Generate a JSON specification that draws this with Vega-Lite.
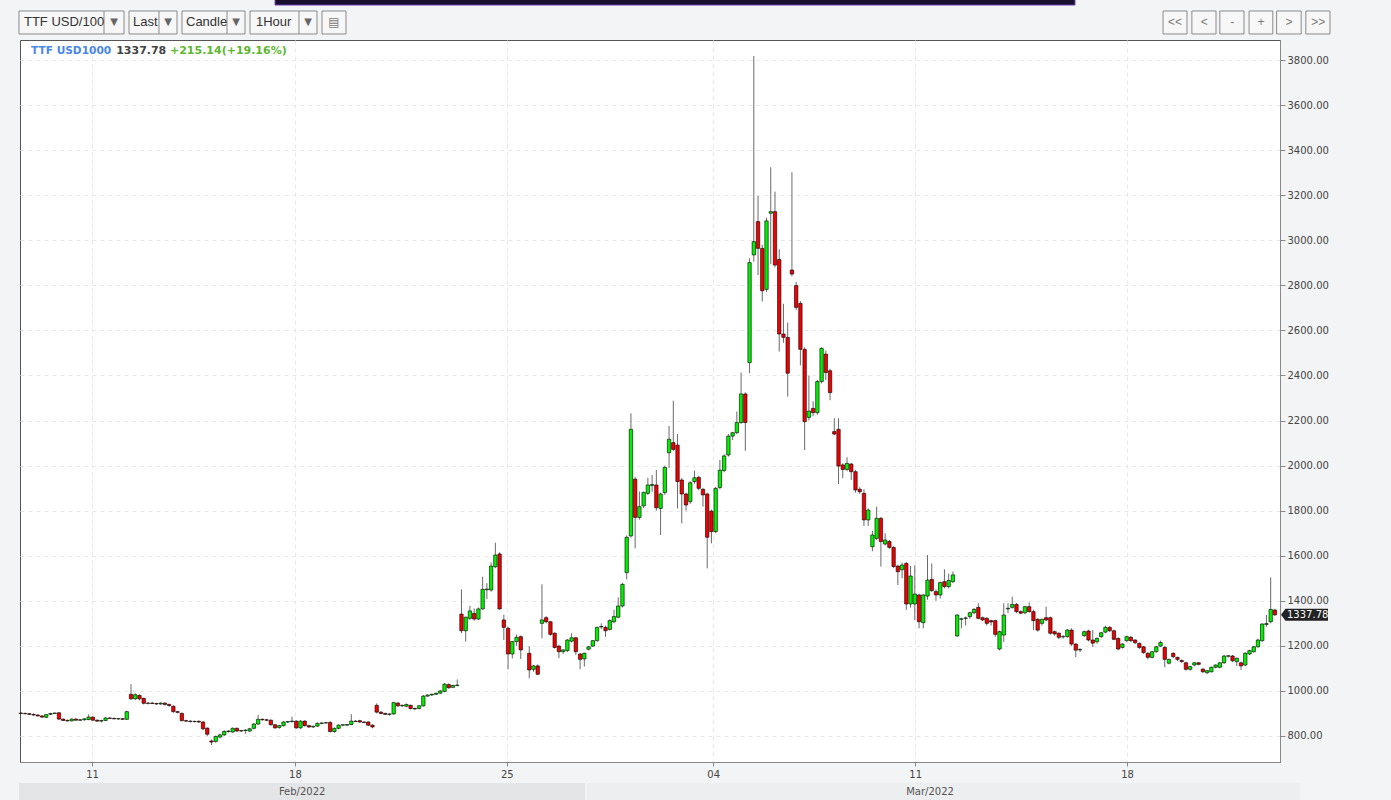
{
"$schema": "https://vega.github.io/schema/vega-lite/v6.json",
"width": 1260, "height": 722,
"autosize": {"type": "none"},
"padding": {"left": 20, "top": 40, "right": 111, "bottom": 38},
"background": "#f3f4f6",
"config": {"view": {"stroke": "#555555", "strokeWidth": 1, "fill": "#ffffff"}, "font": "DejaVu Sans"},
"data": {"values": [{}]},
"datasets": {"candles": [
{"i":0,"o":902,"h":906,"l":897,"c":900},{"i":1,"o":900,"h":904,"l":896,"c":899},{"i":2,"o":899,"h":902,"l":894,"c":896},{"i":3,"o":896,"h":900,"l":890,"c":893},{"i":4,"o":893,"h":897,"l":886,"c":889},{"i":5,"o":889,"h":893,"l":880,"c":884},{"i":6,"o":883,"h":897,"l":880,"c":895},{"i":7,"o":896,"h":903,"l":894,"c":900},{"i":8,"o":900,"h":904,"l":898,"c":902},{"i":9,"o":903,"h":906,"l":872,"c":875},
{"i":10,"o":875,"h":878,"l":866,"c":869},{"i":11,"o":869,"h":874,"l":864,"c":867},{"i":12,"o":867,"h":878,"l":865,"c":875},{"i":13,"o":875,"h":879,"l":868,"c":870},{"i":14,"o":870,"h":876,"l":866,"c":872},{"i":15,"o":872,"h":879,"l":868,"c":876},{"i":16,"o":873,"h":896,"l":870,"c":884},{"i":17,"o":884,"h":886,"l":868,"c":870},{"i":18,"o":870,"h":874,"l":862,"c":866},{"i":19,"o":866,"h":872,"l":860,"c":869},
{"i":20,"o":869,"h":884,"l":866,"c":880},{"i":21,"o":880,"h":884,"l":876,"c":878},{"i":22,"o":878,"h":882,"l":874,"c":876},{"i":23,"o":876,"h":880,"l":872,"c":877},{"i":24,"o":877,"h":880,"l":871,"c":874},{"i":25,"o":874,"h":912,"l":872,"c":908},{"i":26,"o":985,"h":1030,"l":960,"c":965},{"i":27,"o":965,"h":990,"l":960,"c":983},{"i":28,"o":980,"h":985,"l":958,"c":965},{"i":29,"o":967,"h":970,"l":940,"c":945},
{"i":30,"o":945,"h":950,"l":940,"c":946},{"i":31,"o":946,"h":952,"l":942,"c":944},{"i":32,"o":944,"h":948,"l":938,"c":942},{"i":33,"o":942,"h":950,"l":938,"c":946},{"i":34,"o":946,"h":950,"l":935,"c":940},{"i":35,"o":940,"h":944,"l":930,"c":935},{"i":36,"o":932,"h":936,"l":903,"c":908},{"i":37,"o":908,"h":912,"l":900,"c":905},{"i":38,"o":900,"h":905,"l":865,"c":868},{"i":39,"o":868,"h":872,"l":862,"c":866},
{"i":40,"o":866,"h":870,"l":860,"c":864},{"i":41,"o":864,"h":868,"l":860,"c":865},{"i":42,"o":865,"h":870,"l":858,"c":862},{"i":43,"o":862,"h":866,"l":825,"c":832},{"i":44,"o":835,"h":838,"l":800,"c":808},{"i":45,"o":778,"h":785,"l":760,"c":773},{"i":46,"o":776,"h":802,"l":770,"c":798},{"i":47,"o":795,"h":810,"l":790,"c":805},{"i":48,"o":805,"h":826,"l":800,"c":820},{"i":49,"o":820,"h":825,"l":815,"c":822},
{"i":50,"o":818,"h":838,"l":814,"c":834},{"i":51,"o":834,"h":838,"l":818,"c":822},{"i":52,"o":822,"h":828,"l":818,"c":824},{"i":53,"o":824,"h":830,"l":810,"c":826},{"i":54,"o":822,"h":836,"l":818,"c":832},{"i":55,"o":834,"h":858,"l":830,"c":853},{"i":56,"o":853,"h":893,"l":850,"c":874},{"i":57,"o":874,"h":878,"l":868,"c":872},{"i":58,"o":872,"h":876,"l":866,"c":870},{"i":59,"o":870,"h":874,"l":846,"c":850},
{"i":60,"o":850,"h":852,"l":832,"c":836},{"i":61,"o":838,"h":850,"l":832,"c":846},{"i":62,"o":846,"h":866,"l":842,"c":862},{"i":63,"o":862,"h":866,"l":858,"c":864},{"i":64,"o":864,"h":886,"l":860,"c":866},{"i":65,"o":866,"h":870,"l":832,"c":836},{"i":66,"o":836,"h":870,"l":832,"c":866},{"i":67,"o":866,"h":870,"l":842,"c":846},{"i":68,"o":846,"h":850,"l":836,"c":840},{"i":69,"o":840,"h":846,"l":836,"c":843},
{"i":70,"o":844,"h":860,"l":840,"c":856},{"i":71,"o":856,"h":860,"l":852,"c":858},{"i":72,"o":858,"h":862,"l":854,"c":859},{"i":73,"o":860,"h":866,"l":815,"c":820},{"i":74,"o":820,"h":838,"l":814,"c":834},{"i":75,"o":834,"h":852,"l":830,"c":848},{"i":76,"o":848,"h":852,"l":843,"c":850},{"i":77,"o":848,"h":852,"l":844,"c":851},{"i":78,"o":851,"h":897,"l":848,"c":866},{"i":79,"o":866,"h":870,"l":862,"c":864},
{"i":80,"o":868,"h":872,"l":858,"c":862},{"i":81,"o":862,"h":866,"l":858,"c":860},{"i":82,"o":862,"h":866,"l":844,"c":848},{"i":83,"o":848,"h":852,"l":834,"c":840},{"i":84,"o":936,"h":945,"l":900,"c":906},{"i":85,"o":906,"h":910,"l":896,"c":900},{"i":86,"o":900,"h":904,"l":893,"c":896},{"i":87,"o":896,"h":900,"l":890,"c":898},{"i":88,"o":898,"h":952,"l":894,"c":948},{"i":89,"o":946,"h":950,"l":928,"c":934},
{"i":90,"o":934,"h":940,"l":928,"c":936},{"i":91,"o":932,"h":944,"l":928,"c":940},{"i":92,"o":936,"h":940,"l":918,"c":922},{"i":93,"o":922,"h":926,"l":916,"c":920},{"i":94,"o":922,"h":938,"l":918,"c":934},{"i":95,"o":934,"h":982,"l":930,"c":977},{"i":96,"o":977,"h":984,"l":974,"c":982},{"i":97,"o":982,"h":988,"l":978,"c":985},{"i":98,"o":985,"h":992,"l":982,"c":990},{"i":99,"o":990,"h":1004,"l":986,"c":1000},
{"i":100,"o":998,"h":1035,"l":994,"c":1030},{"i":101,"o":1028,"h":1034,"l":1010,"c":1014},{"i":102,"o":1016,"h":1028,"l":1012,"c":1024},{"i":103,"o":1024,"h":1051,"l":1020,"c":1026},
{"i":104,"o":1341,"h":1451,"l":1256,"c":1267},{"i":105,"o":1267,"h":1330,"l":1219,"c":1327},{"i":106,"o":1322,"h":1378,"l":1315,"c":1355},{"i":107,"o":1344,"h":1366,"l":1312,"c":1319},{"i":108,"o":1319,"h":1370,"l":1315,"c":1364},{"i":109,"o":1364,"h":1507,"l":1360,"c":1451},
{"i":110,"o":1449,"h":1478,"l":1407,"c":1452},{"i":111,"o":1448,"h":1570,"l":1440,"c":1554},{"i":112,"o":1551,"h":1658,"l":1545,"c":1603},{"i":113,"o":1608,"h":1615,"l":1360,"c":1364},{"i":114,"o":1315,"h":1338,"l":1226,"c":1282},{"i":115,"o":1278,"h":1285,"l":1096,"c":1164},{"i":116,"o":1164,"h":1222,"l":1144,"c":1219},{"i":117,"o":1219,"h":1250,"l":1200,"c":1238},{"i":118,"o":1241,"h":1246,"l":1142,"c":1182},
{"i":120,"o":1167,"h":1199,"l":1056,"c":1093},{"i":121,"o":1096,"h":1115,"l":1085,"c":1111},{"i":122,"o":1111,"h":1118,"l":1070,"c":1074},{"i":123,"o":1300,"h":1473,"l":1233,"c":1315},{"i":124,"o":1325,"h":1332,"l":1300,"c":1307},{"i":125,"o":1307,"h":1310,"l":1245,"c":1251},{"i":126,"o":1256,"h":1260,"l":1188,"c":1193},{"i":127,"o":1199,"h":1205,"l":1145,"c":1174},{"i":128,"o":1174,"h":1185,"l":1165,"c":1182},{"i":129,"o":1179,"h":1230,"l":1172,"c":1226},
{"i":130,"o":1221,"h":1256,"l":1215,"c":1236},{"i":131,"o":1236,"h":1240,"l":1160,"c":1174},{"i":132,"o":1164,"h":1168,"l":1096,"c":1140},{"i":133,"o":1142,"h":1170,"l":1108,"c":1167},{"i":134,"o":1185,"h":1200,"l":1180,"c":1196},{"i":135,"o":1199,"h":1226,"l":1195,"c":1223},{"i":136,"o":1223,"h":1285,"l":1218,"c":1282},{"i":137,"o":1284,"h":1300,"l":1275,"c":1286},{"i":138,"o":1282,"h":1290,"l":1240,"c":1267},{"i":139,"o":1273,"h":1318,"l":1268,"c":1312},
{"i":140,"o":1307,"h":1360,"l":1300,"c":1330},{"i":141,"o":1327,"h":1415,"l":1322,"c":1377},{"i":142,"o":1377,"h":1480,"l":1370,"c":1473},{"i":143,"o":1525,"h":1690,"l":1495,"c":1682},{"i":144,"o":1688,"h":2232,"l":1680,"c":2161},{"i":145,"o":1940,"h":1950,"l":1633,"c":1770},{"i":146,"o":1770,"h":1885,"l":1760,"c":1818},{"i":147,"o":1821,"h":1885,"l":1810,"c":1881},{"i":148,"o":1877,"h":1946,"l":1870,"c":1914},{"i":149,"o":1912,"h":1958,"l":1884,"c":1916},
{"i":150,"o":1914,"h":1980,"l":1800,"c":1813},{"i":151,"o":1810,"h":1880,"l":1692,"c":1874},{"i":152,"o":1880,"h":2000,"l":1870,"c":1992},{"i":153,"o":2057,"h":2176,"l":1990,"c":2117},{"i":154,"o":2102,"h":2288,"l":2065,"c":2072},{"i":155,"o":2091,"h":2140,"l":1810,"c":1929},{"i":156,"o":1936,"h":1945,"l":1744,"c":1874},{"i":157,"o":1874,"h":1880,"l":1800,"c":1825},{"i":158,"o":1840,"h":1930,"l":1830,"c":1924},{"i":159,"o":1929,"h":1978,"l":1920,"c":1946},
{"i":160,"o":1948,"h":1955,"l":1890,"c":1899},{"i":161,"o":1895,"h":1900,"l":1818,"c":1870},{"i":162,"o":1874,"h":1880,"l":1544,"c":1682},{"i":163,"o":1798,"h":1805,"l":1655,"c":1707},{"i":164,"o":1707,"h":1905,"l":1700,"c":1899},{"i":165,"o":1903,"h":2025,"l":1895,"c":1980},{"i":166,"o":1978,"h":2050,"l":1970,"c":2043},{"i":167,"o":2047,"h":2140,"l":2040,"c":2131},{"i":168,"o":2131,"h":2150,"l":2113,"c":2146},{"i":169,"o":2146,"h":2240,"l":2140,"c":2191},
{"i":170,"o":2191,"h":2413,"l":2185,"c":2318},{"i":171,"o":2318,"h":2325,"l":2066,"c":2191},{"i":172,"o":2457,"h":2920,"l":2410,"c":2901},{"i":173,"o":2935,"h":3818,"l":2905,"c":2994},{"i":174,"o":3083,"h":3197,"l":2846,"c":2964},{"i":175,"o":2964,"h":2980,"l":2728,"c":2776},{"i":176,"o":2782,"h":3100,"l":2770,"c":3086},{"i":177,"o":3120,"h":3324,"l":2895,"c":3127},{"i":178,"o":3127,"h":3216,"l":2880,"c":2890},{"i":179,"o":2915,"h":2960,"l":2506,"c":2584},
{"i":180,"o":2584,"h":2718,"l":2545,"c":2569},{"i":181,"o":2569,"h":2635,"l":2306,"c":2410},{"i":182,"o":2868,"h":3302,"l":2840,"c":2850},{"i":183,"o":2799,"h":2815,"l":2690,"c":2702},{"i":184,"o":2720,"h":2730,"l":2445,"c":2516},{"i":185,"o":2516,"h":2525,"l":2069,"c":2195},{"i":186,"o":2214,"h":2400,"l":2200,"c":2242},{"i":187,"o":2254,"h":2285,"l":2220,"c":2235},{"i":188,"o":2235,"h":2380,"l":2225,"c":2373},{"i":189,"o":2373,"h":2525,"l":2365,"c":2520},
{"i":190,"o":2495,"h":2510,"l":2380,"c":2413},{"i":191,"o":2421,"h":2430,"l":2290,"c":2324},{"i":192,"o":2151,"h":2210,"l":2135,"c":2140},{"i":193,"o":2161,"h":2210,"l":1918,"c":1998},{"i":194,"o":2003,"h":2010,"l":1944,"c":1983},{"i":195,"o":1983,"h":2037,"l":1975,"c":2010},{"i":196,"o":2007,"h":2012,"l":1936,"c":1973},{"i":197,"o":1973,"h":1980,"l":1880,"c":1892},{"i":198,"o":1895,"h":1904,"l":1875,"c":1884},{"i":199,"o":1877,"h":1895,"l":1732,"c":1759},
{"i":200,"o":1759,"h":1810,"l":1732,"c":1803},{"i":201,"o":1640,"h":1710,"l":1620,"c":1692},{"i":202,"o":1677,"h":1818,"l":1670,"c":1766},{"i":203,"o":1766,"h":1772,"l":1552,"c":1663},{"i":204,"o":1652,"h":1700,"l":1645,"c":1670},{"i":205,"o":1663,"h":1670,"l":1630,"c":1637},{"i":206,"o":1637,"h":1642,"l":1545,"c":1552},{"i":207,"o":1554,"h":1560,"l":1470,"c":1529},{"i":208,"o":1538,"h":1570,"l":1500,"c":1559},{"i":209,"o":1566,"h":1572,"l":1360,"c":1386},
{"i":210,"o":1386,"h":1555,"l":1370,"c":1510},{"i":211,"o":1386,"h":1558,"l":1315,"c":1430},{"i":212,"o":1426,"h":1430,"l":1278,"c":1307},{"i":213,"o":1303,"h":1430,"l":1278,"c":1426},{"i":214,"o":1421,"h":1603,"l":1405,"c":1492},{"i":215,"o":1495,"h":1566,"l":1440,"c":1445},{"i":216,"o":1441,"h":1450,"l":1400,"c":1426},{"i":217,"o":1426,"h":1485,"l":1410,"c":1481},{"i":218,"o":1485,"h":1540,"l":1455,"c":1463},{"i":219,"o":1463,"h":1520,"l":1455,"c":1490},
{"i":220,"o":1485,"h":1530,"l":1478,"c":1515},{"i":221,"o":1244,"h":1340,"l":1240,"c":1337},{"i":222,"o":1318,"h":1325,"l":1278,"c":1320},{"i":223,"o":1322,"h":1330,"l":1290,"c":1324},{"i":224,"o":1330,"h":1352,"l":1320,"c":1347},{"i":225,"o":1347,"h":1368,"l":1340,"c":1362},{"i":226,"o":1371,"h":1389,"l":1318,"c":1322},{"i":227,"o":1325,"h":1330,"l":1310,"c":1315},{"i":228,"o":1322,"h":1328,"l":1290,"c":1300},{"i":229,"o":1312,"h":1316,"l":1290,"c":1306},
{"i":230,"o":1312,"h":1316,"l":1240,"c":1251},{"i":231,"o":1186,"h":1268,"l":1180,"c":1263},{"i":232,"o":1248,"h":1389,"l":1218,"c":1337},{"i":233,"o":1364,"h":1389,"l":1345,"c":1367},{"i":234,"o":1371,"h":1418,"l":1365,"c":1384},{"i":235,"o":1384,"h":1390,"l":1345,"c":1352},{"i":236,"o":1352,"h":1358,"l":1340,"c":1345},{"i":237,"o":1347,"h":1378,"l":1340,"c":1374},{"i":238,"o":1374,"h":1393,"l":1348,"c":1352},{"i":239,"o":1352,"h":1360,"l":1270,"c":1312},
{"i":240,"o":1318,"h":1322,"l":1263,"c":1270},{"i":241,"o":1300,"h":1320,"l":1290,"c":1318},{"i":242,"o":1325,"h":1374,"l":1310,"c":1315},{"i":243,"o":1325,"h":1330,"l":1250,"c":1256},{"i":244,"o":1263,"h":1268,"l":1245,"c":1253},{"i":245,"o":1256,"h":1260,"l":1230,"c":1238},{"i":246,"o":1240,"h":1248,"l":1232,"c":1241},{"i":247,"o":1241,"h":1275,"l":1236,"c":1270},{"i":248,"o":1270,"h":1278,"l":1200,"c":1208},{"i":249,"o":1208,"h":1212,"l":1150,"c":1181},
{"i":250,"o":1182,"h":1190,"l":1172,"c":1184},{"i":251,"o":1245,"h":1268,"l":1240,"c":1263},{"i":252,"o":1266,"h":1272,"l":1220,"c":1226},{"i":253,"o":1226,"h":1270,"l":1195,"c":1212},{"i":254,"o":1218,"h":1238,"l":1210,"c":1233},{"i":255,"o":1241,"h":1262,"l":1235,"c":1258},{"i":256,"o":1261,"h":1290,"l":1256,"c":1282},{"i":257,"o":1282,"h":1288,"l":1262,"c":1267},{"i":258,"o":1267,"h":1272,"l":1225,"c":1229},{"i":259,"o":1233,"h":1238,"l":1180,"c":1186},
{"i":260,"o":1193,"h":1212,"l":1188,"c":1208},{"i":261,"o":1223,"h":1245,"l":1218,"c":1241},{"i":262,"o":1238,"h":1245,"l":1218,"c":1223},{"i":263,"o":1226,"h":1230,"l":1208,"c":1214},{"i":264,"o":1211,"h":1215,"l":1186,"c":1193},{"i":265,"o":1196,"h":1200,"l":1165,"c":1170},{"i":266,"o":1167,"h":1172,"l":1140,"c":1149},{"i":267,"o":1149,"h":1178,"l":1144,"c":1174},{"i":268,"o":1174,"h":1200,"l":1170,"c":1196},{"i":269,"o":1199,"h":1223,"l":1195,"c":1215},
{"i":270,"o":1193,"h":1200,"l":1105,"c":1140},{"i":271,"o":1123,"h":1143,"l":1118,"c":1140},{"i":272,"o":1167,"h":1172,"l":1145,"c":1152},{"i":273,"o":1149,"h":1152,"l":1132,"c":1140},{"i":274,"o":1135,"h":1140,"l":1125,"c":1130},{"i":275,"o":1125,"h":1130,"l":1090,"c":1096},{"i":276,"o":1096,"h":1112,"l":1090,"c":1108},{"i":277,"o":1115,"h":1128,"l":1110,"c":1125},{"i":278,"o":1125,"h":1128,"l":1114,"c":1118},{"i":279,"o":1097,"h":1100,"l":1080,"c":1085},
{"i":280,"o":1081,"h":1093,"l":1075,"c":1090},{"i":281,"o":1085,"h":1108,"l":1082,"c":1105},{"i":282,"o":1105,"h":1118,"l":1100,"c":1115},{"i":283,"o":1105,"h":1128,"l":1100,"c":1125},{"i":284,"o":1125,"h":1160,"l":1120,"c":1155},{"i":285,"o":1154,"h":1160,"l":1148,"c":1156},{"i":286,"o":1155,"h":1160,"l":1128,"c":1134},{"i":287,"o":1130,"h":1148,"l":1110,"c":1145},{"i":288,"o":1125,"h":1130,"l":1093,"c":1111},{"i":289,"o":1115,"h":1172,"l":1110,"c":1167},
{"i":290,"o":1164,"h":1183,"l":1160,"c":1179},{"i":291,"o":1174,"h":1200,"l":1170,"c":1196},{"i":292,"o":1196,"h":1232,"l":1192,"c":1226},{"i":293,"o":1223,"h":1300,"l":1218,"c":1297},{"i":294,"o":1295,"h":1337,"l":1285,"c":1299},{"i":295,"o":1307,"h":1504,"l":1300,"c":1362},{"i":296,"o":1359,"h":1365,"l":1332,"c":1337.78}
]},
"layer": [
{"mark": {"type": "rect", "fill": "#e4e5e7"}, "encoding": {"x": {"datum": -0.44}, "x2": {"datum": 133.2}, "y": {"datum": 591.4}, "y2": {"datum": 516}}},
{"mark": {"type": "rect", "fill": "#eceef0"}, "encoding": {"x": {"datum": 133.6}, "x2": {"datum": 301.9}, "y": {"datum": 591.4}, "y2": {"datum": 516}}},
{"mark": {"type": "text", "align": "center", "baseline": "middle", "fontSize": 10, "fill": "#555555"}, "encoding": {"x": {"datum": 66.4}, "y": {"datum": 551.5}, "text": {"value": "Feb/2022"}}},
{"mark": {"type": "text", "align": "center", "baseline": "middle", "fontSize": 10, "fill": "#555555"}, "encoding": {"x": {"datum": 214.6}, "y": {"datum": 551.5}, "text": {"value": "Mar/2022"}}},
{"mark": {"type": "rect", "fill": "#16102e", "stroke": "#6a3ab0", "strokeWidth": 1}, "encoding": {"x": {"datum": 60.0}, "x2": {"datum": 248.8}, "y": {"datum": 4070}, "y2": {"datum": 4044.1}}},
{"mark": {"type": "rect", "fill": "#f7f7f7", "stroke": "#8a8a8a"}, "encoding": {"x": {"datum": -0.44}, "x2": {"datum": 24.35}, "y": {"datum": 4017.6}, "y2": {"datum": 3915.5}}},
{"mark": {"type": "rect", "fill": "#f7f7f7", "stroke": "#8a8a8a"}, "encoding": {"x": {"datum": 25.53}, "x2": {"datum": 36.86}, "y": {"datum": 4017.6}, "y2": {"datum": 3915.5}}},
{"mark": {"type": "rect", "fill": "#f7f7f7", "stroke": "#8a8a8a"}, "encoding": {"x": {"datum": 38.04}, "x2": {"datum": 52.91}, "y": {"datum": 4017.6}, "y2": {"datum": 3915.5}}},
{"mark": {"type": "rect", "fill": "#f7f7f7", "stroke": "#8a8a8a"}, "encoding": {"x": {"datum": 54.09}, "x2": {"datum": 69.9}, "y": {"datum": 4017.6}, "y2": {"datum": 3915.5}}},
{"mark": {"type": "rect", "fill": "#f7f7f7", "stroke": "#8a8a8a"}, "encoding": {"x": {"datum": 71.08}, "x2": {"datum": 76.75}, "y": {"datum": 4017.6}, "y2": {"datum": 3915.5}}},
{"mark": {"type": "rule", "stroke": "#8a8a8a"}, "encoding": {"x": {"datum": 19.63}, "y": {"datum": 4017.6}, "y2": {"datum": 3915.5}}},
{"mark": {"type": "rule", "stroke": "#8a8a8a"}, "encoding": {"x": {"datum": 32.6}, "y": {"datum": 4017.6}, "y2": {"datum": 3915.5}}},
{"mark": {"type": "rule", "stroke": "#8a8a8a"}, "encoding": {"x": {"datum": 48.66}, "y": {"datum": 4017.6}, "y2": {"datum": 3915.5}}},
{"mark": {"type": "rule", "stroke": "#8a8a8a"}, "encoding": {"x": {"datum": 65.65}, "y": {"datum": 4017.6}, "y2": {"datum": 3915.5}}},
{"mark": {"type": "text", "align": "left", "baseline": "middle", "font": "Liberation Sans", "fontSize": 13, "fill": "#333333"}, "encoding": {"x": {"datum": 0.74}, "y": {"datum": 3966.5}, "text": {"value": "TTF USD/100"}}},
{"mark": {"type": "text", "align": "left", "baseline": "middle", "font": "Liberation Sans", "fontSize": 13, "fill": "#333333"}, "encoding": {"x": {"datum": 26.47}, "y": {"datum": 3966.5}, "text": {"value": "Last"}}},
{"mark": {"type": "text", "align": "left", "baseline": "middle", "font": "Liberation Sans", "fontSize": 13, "fill": "#333333"}, "encoding": {"x": {"datum": 38.98}, "y": {"datum": 3966.5}, "text": {"value": "Candle"}}},
{"mark": {"type": "text", "align": "left", "baseline": "middle", "font": "Liberation Sans", "fontSize": 13, "fill": "#333333"}, "encoding": {"x": {"datum": 55.5}, "y": {"datum": 3966.5}, "text": {"value": "1Hour"}}},
{"mark": {"type": "text", "align": "center", "baseline": "middle", "fontSize": 10, "fill": "#666666"}, "encoding": {"x": {"datum": 22.0}, "y": {"datum": 3966.5}, "text": {"value": "▼"}}},
{"mark": {"type": "text", "align": "center", "baseline": "middle", "fontSize": 10, "fill": "#666666"}, "encoding": {"x": {"datum": 34.73}, "y": {"datum": 3966.5}, "text": {"value": "▼"}}},
{"mark": {"type": "text", "align": "center", "baseline": "middle", "fontSize": 10, "fill": "#666666"}, "encoding": {"x": {"datum": 50.78}, "y": {"datum": 3966.5}, "text": {"value": "▼"}}},
{"mark": {"type": "text", "align": "center", "baseline": "middle", "fontSize": 10, "fill": "#666666"}, "encoding": {"x": {"datum": 67.78}, "y": {"datum": 3966.5}, "text": {"value": "▼"}}},
{"mark": {"type": "text", "align": "center", "baseline": "middle", "fontSize": 12, "fill": "#777777"}, "encoding": {"x": {"datum": 73.9}, "y": {"datum": 3966.5}, "text": {"value": "▤"}}},
{"mark": {"type": "rect", "fill": "#f7f7f7", "stroke": "#8a8a8a"}, "encoding": {"x": {"datum": 269.6}, "x2": {"datum": 275.25}, "y": {"datum": 4017.6}, "y2": {"datum": 3915.5}}},
{"mark": {"type": "rect", "fill": "#f7f7f7", "stroke": "#8a8a8a"}, "encoding": {"x": {"datum": 276.4}, "x2": {"datum": 282.1}, "y": {"datum": 4017.6}, "y2": {"datum": 3915.5}}},
{"mark": {"type": "rect", "fill": "#f7f7f7", "stroke": "#8a8a8a"}, "encoding": {"x": {"datum": 283.0}, "x2": {"datum": 288.7}, "y": {"datum": 4017.6}, "y2": {"datum": 3915.5}}},
{"mark": {"type": "rect", "fill": "#f7f7f7", "stroke": "#8a8a8a"}, "encoding": {"x": {"datum": 289.9}, "x2": {"datum": 295.5}, "y": {"datum": 4017.6}, "y2": {"datum": 3915.5}}},
{"mark": {"type": "rect", "fill": "#f7f7f7", "stroke": "#8a8a8a"}, "encoding": {"x": {"datum": 296.4}, "x2": {"datum": 302.2}, "y": {"datum": 4017.6}, "y2": {"datum": 3915.5}}},
{"mark": {"type": "rect", "fill": "#f7f7f7", "stroke": "#8a8a8a"}, "encoding": {"x": {"datum": 303.3}, "x2": {"datum": 309.0}, "y": {"datum": 4017.6}, "y2": {"datum": 3915.5}}},
{"mark": {"type": "text", "align": "center", "baseline": "middle", "font": "Liberation Sans", "fontSize": 12, "fill": "#777777"}, "encoding": {"x": {"datum": 272.4}, "y": {"datum": 3966.5}, "text": {"value": "<<"}}},
{"mark": {"type": "text", "align": "center", "baseline": "middle", "font": "Liberation Sans", "fontSize": 12, "fill": "#777777"}, "encoding": {"x": {"datum": 279.3}, "y": {"datum": 3966.5}, "text": {"value": "<"}}},
{"mark": {"type": "text", "align": "center", "baseline": "middle", "font": "Liberation Sans", "fontSize": 12, "fill": "#777777"}, "encoding": {"x": {"datum": 285.9}, "y": {"datum": 3966.5}, "text": {"value": "-"}}},
{"mark": {"type": "text", "align": "center", "baseline": "middle", "font": "Liberation Sans", "fontSize": 12, "fill": "#777777"}, "encoding": {"x": {"datum": 292.7}, "y": {"datum": 3966.5}, "text": {"value": "+"}}},
{"mark": {"type": "text", "align": "center", "baseline": "middle", "font": "Liberation Sans", "fontSize": 12, "fill": "#777777"}, "encoding": {"x": {"datum": 299.3}, "y": {"datum": 3966.5}, "text": {"value": ">"}}},
{"mark": {"type": "text", "align": "center", "baseline": "middle", "font": "Liberation Sans", "fontSize": 12, "fill": "#777777"}, "encoding": {"x": {"datum": 306.2}, "y": {"datum": 3966.5}, "text": {"value": ">>"}}},
{"data": {"name": "candles"},
 "mark": {"type": "rule", "color": "#6a6a6a", "strokeWidth": 1},
 "encoding": {
  "x": {"field": "i", "type": "quantitative", "scale": {"domain": [-0.2, 297.2], "nice": false, "zero": false, "padding": 0},
        "axis": {"orient": "bottom", "values": [16.8, 64.7, 114.7, 163.4, 211.1, 261.1], "labelExpr": "datum.value<40?'11':datum.value<90?'18':datum.value<140?'25':datum.value<190?'04':datum.value<240?'11':'18'", "grid": true, "gridDash": [4, 4], "gridColor": "#e8e8e8", "domainColor": "#888888", "tickColor": "#888888", "tickSize": 4, "labelFont": "DejaVu Sans", "labelFontSize": 10, "labelColor": "#444444", "labelPadding": 3, "title": null}},
  "y": {"field": "l", "type": "quantitative", "scale": {"domain": [684.6, 3888.8], "nice": false, "zero": false, "padding": 0},
        "axis": {"orient": "right", "values": [800, 1000, 1200, 1400, 1600, 1800, 2000, 2200, 2400, 2600, 2800, 3000, 3200, 3400, 3600, 3800], "format": ".2f", "grid": true, "gridDash": [4, 4], "gridColor": "#e8e8e8", "domainColor": "#888888", "tickColor": "#888888", "tickSize": 5, "labelFont": "DejaVu Sans", "labelFontSize": 10, "labelColor": "#444444", "labelPadding": 2, "title": null}},
  "y2": {"field": "h"}
 }},
{"data": {"name": "candles"},
 "mark": {"type": "bar", "size": 3.4, "stroke": "#000000", "strokeWidth": 0.6},
 "encoding": {
  "x": {"field": "i", "type": "quantitative"},
  "y": {"field": "o", "type": "quantitative"},
  "y2": {"field": "c"},
  "fill": {"condition": {"test": "datum.c >= datum.o", "value": "#00f000"}, "value": "#f00000"}
 }},
{"mark": {"type": "text", "align": "left", "baseline": "middle", "fontSize": 10.6, "fontWeight": "bold", "fill": "#4a86e8"}, "encoding": {"x": {"datum": 2.4}, "y": {"datum": 3840}, "text": {"value": "TTF USD1000"}}},
{"mark": {"type": "text", "align": "left", "baseline": "middle", "fontSize": 11, "fontWeight": "bold", "fill": "#444444"}, "encoding": {"x": {"datum": 22.5}, "y": {"datum": 3840}, "text": {"value": "1337.78"}}},
{"mark": {"type": "text", "align": "left", "baseline": "middle", "fontSize": 11, "fontWeight": "bold", "fill": "#5cb82e"}, "encoding": {"x": {"datum": 35.2}, "y": {"datum": 3840}, "text": {"value": "+215.14(+19.16%)"}}},
{"mark": {"type": "point", "shape": "M0.1,0L0.55,-0.6L4.8,-0.6L4.8,0.6L0.55,0.6Z", "size": 400, "filled": true, "fill": "#222222", "opacity": 1, "strokeWidth": 0}, "encoding": {"x": {"datum": 297.2}, "y": {"datum": 1337.78}}},
{"mark": {"type": "text", "align": "left", "baseline": "middle", "fontSize": 10, "dx": 7, "fill": "#ffffff"}, "encoding": {"x": {"datum": 297.2}, "y": {"datum": 1337.78}, "text": {"value": "1337.78"}}}
]
}
